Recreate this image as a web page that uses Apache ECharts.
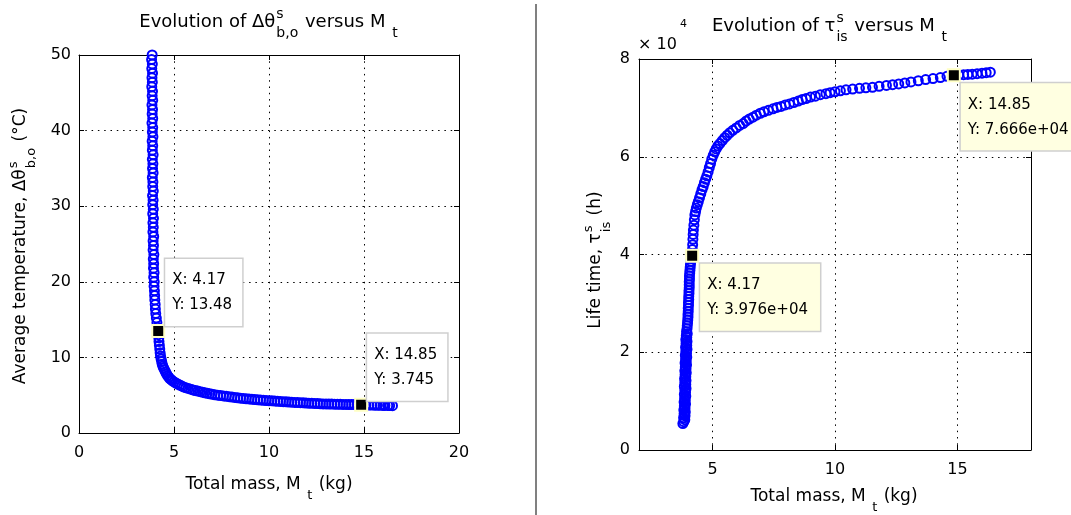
<!DOCTYPE html>
<html><head><meta charset="utf-8">
<script src="https://cdn.jsdelivr.net/npm/echarts@6/dist/echarts.min.js"></script>
<style>html,body{margin:0;padding:0;background:#fff}#c{width:1071px;height:515px}</style>
</head><body><div id="c"></div><script>
const FONT = 'DejaVu Sans';

// ---- Left chart: average temperature (°C) vs total mass (kg) ----
const leftMass = [
  3.85,3.82,3.86,3.83,3.87,3.84,3.86,3.83,3.87,3.85,
  3.88,3.84,3.87,3.85,3.88,3.84,3.88,3.86,3.89,3.85,
  3.88,3.86,3.90,3.86,3.89,3.87,3.90,3.86,3.89,3.88,
  3.91,3.87,3.90,3.88,3.91,3.88,3.92,3.89,3.91,3.89,
  3.93,3.90,3.92,3.90,3.94,3.91,3.93,3.92,3.95,3.93,
  3.96,3.95,3.97,3.98,3.99,4.01,4.02,4.04,4.07,4.10,4.13,
  4.17,4.18,4.20,4.21,4.23,4.25,4.27,4.29,4.32,4.35,
  4.38,4.41,4.45,4.50,4.55,4.60,4.66,4.72,4.78,4.85,
  4.92,5.00,5.10,5.20,5.30,5.40,5.50,5.62,5.75,5.88,
  6.00,6.12,6.25,6.38,6.50,6.62,6.75,6.88,7.00,7.15,
  7.30,7.45,7.60,7.75,7.90,8.05,8.20,8.35,8.50,8.65,
  8.80,8.95,9.10,9.25,9.40,9.55,9.70,9.85,10.00,10.15,
  10.30,10.45,10.60,10.75,10.90,11.05,11.20,11.35,11.50,11.65,
  11.80,11.95,12.10,12.25,12.40,12.55,12.70,12.85,13.00,13.15,
  13.30,13.45,13.60,13.75,13.90,14.05,14.20,14.35,14.50,14.65,
  14.85,14.95,15.10,15.25,15.40,15.55,15.70,15.85,16.00,16.10,
  16.25,16.35,16.50
];
const leftTemp = [
  50,49.4,48.8,48.2,47.6,47,46.4,45.8,45.2,44.6,
  44,43.4,42.8,42.2,41.6,41,40.4,39.8,39.2,38.6,
  38,37.4,36.8,36.2,35.6,35,34.4,33.8,33.2,32.6,
  32,31.4,30.8,30.2,29.6,29,28.4,27.8,27.2,26.6,
  26,25.4,24.8,24.2,23.6,23,22.4,21.8,21.2,20.6,
  20,19.4,18.8,18.2,17.6,17,16.4,15.8,15.2,14.6,14.0,
  13.48,13.0,12.6,12.1,11.6,11.1,10.6,10.2,9.8,9.45,
  9.1,8.85,8.6,8.35,8.1,7.85,7.6,7.4,7.2,7.05,
  6.9,6.75,6.6,6.47,6.35,6.22,6.1,6.0,5.9,5.8,
  5.7,5.62,5.55,5.47,5.4,5.32,5.25,5.19,5.13,5.06,
  5.0,4.95,4.9,4.85,4.8,4.75,4.7,4.65,4.61,4.57,
  4.53,4.5,4.46,4.42,4.39,4.36,4.33,4.3,4.28,4.25,
  4.22,4.19,4.17,4.14,4.12,4.09,4.07,4.05,4.03,4.01,
  3.99,3.97,3.95,3.93,3.91,3.89,3.87,3.85,3.84,3.83,
  3.82,3.81,3.8,3.79,3.78,3.775,3.77,3.765,3.76,3.755,
  3.745,3.735,3.72,3.705,3.69,3.68,3.67,3.66,3.65,3.645,
  3.64,3.63,3.62
];
const leftTipMass = [4.17, 14.85];
const leftTipTemp = [13.48, 3.745];
const leftXTicks = {min: 0, max: 20, interval: 5};
const leftYTicks = {min: 0, max: 50, interval: 10};

// ---- Right chart: life time (h) vs total mass (kg) ----
const rightMass = [
  3.79,3.83,3.87,3.82,3.88,3.84,3.89,3.83,3.88,3.85,
  3.90,3.84,3.89,3.86,3.91,3.85,3.90,3.87,3.92,3.85,
  3.91,3.87,3.92,3.86,3.91,3.88,3.93,3.87,3.92,3.89,
  3.94,3.88,3.93,3.90,3.95,3.89,3.94,3.91,3.96,3.90,
  3.95,3.92,3.96,3.91,3.95,3.93,3.97,3.94,
  3.96,3.97,3.98,3.99,4.00,4.00,4.01,4.01,4.02,4.02,
  4.03,4.03,4.04,4.04,4.05,4.05,4.05,4.06,4.06,4.07,
  4.08,4.09,4.10,4.12,4.14,
  4.17,4.18,4.19,4.20,4.21,4.22,4.24,4.26,4.28,4.31,
  4.34,4.38,4.42,4.47,4.52,4.57,4.62,4.67,4.72,4.77,
  4.82,4.87,4.92,4.97,5.03,5.09,5.15,5.22,5.30,5.40,
  5.50,5.60,5.70,5.83,5.97,6.11,6.25,6.37,6.50,6.65,
  6.79,6.95,7.10,7.28,7.47,7.63,7.80,7.97,8.14,8.32,
  8.50,8.66,8.82,9.00,9.20,9.40,9.63,9.80,10.00,10.22,
  10.45,10.72,11.00,11.26,11.53,11.80,12.10,12.35,12.60,12.85,
  13.10,13.40,13.70,14.00,14.30,14.57,14.85,15.05,15.25,15.42,
  15.60,15.80,16.00,16.17,16.34
];
const rightLife = [
  5400,5800,6200,6600,7000,7400,7800,8200,8600,9000,
  9400,9800,10200,10600,11000,11400,11800,12200,12600,13000,
  13400,13800,14200,14600,15000,15400,15800,16200,16600,17000,
  17400,17800,18200,18600,19000,19400,19800,20200,20600,21000,
  21400,21800,22200,22600,23000,23400,23800,24200,
  24800,25400,26000,26600,27200,27800,28400,29000,29600,30200,
  30800,31400,32000,32600,33200,33800,34400,35000,35600,36200,
  36800,37400,38000,38600,39200,
  39760,41000,42000,43100,44100,45000,46000,47100,48100,48800,
  49500,50200,50800,51600,52400,53200,53900,54700,55400,56100,
  56900,57800,58600,59500,60300,61000,61600,62200,62700,63300,
  63900,64400,64900,65400,65900,66400,66800,67300,67700,68100,
  68500,68900,69200,69500,69800,70100,70300,70600,70800,71100,
  71400,71700,71900,72200,72400,72700,72900,73100,73300,73500,
  73700,73850,74000,74100,74200,74400,74600,74750,74900,75100,
  75300,75550,75800,76000,76200,76450,76660,76730,76800,76850,
  76900,77000,77100,77200,77300
];
const rightTipMass = [4.17, 14.85];
const rightTipLife = [39760, 76660];
const rightXLabels = [5, 10, 15];
const rightXRange = {min: 2, max: 18};
const rightYTicks = {min: 0, max: 80000, interval: 20000};
const rightYScale = 10000; // tick labels shown in units of 10^4

// ---- helpers ----
const mctx = document.createElement('canvas').getContext('2d');
function tw(text, size) { mctx.font = size + 'px "' + FONT + '"'; return mctx.measureText(text).width; }
function txt(x, y, s, size) {
  return {type: 'text', x: x, y: y, silent: true,
    style: {text: s, fontSize: size, fontFamily: FONT, fill: '#000',
      textAlign: 'left', textVerticalAlign: 'middle', align: 'left', verticalAlign: 'middle'}};
}
function mathLabel(pieces, cx, cy, size, rot) {
  const ss = Math.round(size * 0.76);
  let x = 0; const kids = [];
  pieces.forEach(p => {
    if (p.t) { kids.push(txt(x, 0, p.t, size)); x += tw(p.t, size); }
    else {
      let adv = 0;
      if (p.sup) { kids.push(txt(x + 1, -size * 0.45, p.sup, ss)); adv = Math.max(adv, tw(p.sup, ss) + 1); }
      if (p.sub) { kids.push(txt(x + 1, size * 0.62, p.sub, ss)); adv = Math.max(adv, tw(p.sub, ss) + 1); }
      x += adv + 1;
    }
  });
  kids.forEach(k => { k.x -= x / 2; });
  return {type: 'group', x: cx, y: cy, rotation: rot || 0, children: kids};
}
const fmtLife = v => v.toExponential(3).replace(/e\+(\d)$/, 'e+0$1');

const dotted = {show: true, lineStyle: {type: [1.5, 4.8], color: '#000', width: 1}};
const blackLine = {show: true, onZero: false, lineStyle: {color: '#000', width: 1}};
const tickIn = {show: true, inside: true, length: 5, lineStyle: {color: '#000'}};
const lab = {color: '#000', fontSize: 16, fontFamily: FONT};

function scatterStyle() {
  return {symbol: 'circle', symbolSize: 9,
    itemStyle: {color: 'rgba(0,0,0,0)', borderColor: '#0000ff', borderWidth: 2, opacity: 1}};
}
const tipLabelBase = {show: true, color: '#000', fontSize: 15, fontFamily: FONT, lineHeight: 25,
  borderWidth: 1.5, padding: [9, 10, 8, 7], align: 'left', verticalAlign: 'top'};

const chart = echarts.init(document.getElementById('c'), null, {renderer: 'canvas'});
chart.setOption({
  animation: false,
  backgroundColor: '#fff',
  grid: [
    {left: 79, top: 55, width: 380, height: 378},
    {left: 639, top: 59, width: 392, height: 391}
  ],
  xAxis: [
    Object.assign({gridIndex: 0, type: 'value', position: 'bottom', axisLine: blackLine, axisTick: tickIn,
      axisLabel: Object.assign({margin: 12}, lab), splitLine: dotted}, leftXTicks),
    Object.assign({gridIndex: 0, type: 'value', position: 'top', axisLine: blackLine, axisTick: tickIn,
      axisLabel: {show: false}, splitLine: {show: false}}, leftXTicks),
    Object.assign({gridIndex: 1, type: 'value', position: 'bottom', axisLine: blackLine,
      axisTick: Object.assign({customValues: rightXLabels}, tickIn),
      axisLabel: Object.assign({margin: 12, customValues: rightXLabels}, lab), splitLine: dotted}, rightXRange),
    Object.assign({gridIndex: 1, type: 'value', position: 'top', axisLine: blackLine,
      axisTick: Object.assign({customValues: rightXLabels}, tickIn),
      axisLabel: {show: false, customValues: rightXLabels}, splitLine: {show: false}}, rightXRange)
  ],
  yAxis: [
    Object.assign({gridIndex: 0, type: 'value', position: 'left', axisLine: blackLine, axisTick: tickIn,
      axisLabel: Object.assign({margin: 8}, lab), splitLine: dotted}, leftYTicks),
    Object.assign({gridIndex: 0, type: 'value', position: 'right', axisLine: blackLine, axisTick: tickIn,
      axisLabel: {show: false}, splitLine: {show: false}}, leftYTicks),
    Object.assign({gridIndex: 1, type: 'value', position: 'left', axisLine: blackLine, axisTick: tickIn,
      axisLabel: Object.assign({margin: 9, formatter: v => String(v / rightYScale)}, lab), splitLine: dotted}, rightYTicks),
    Object.assign({gridIndex: 1, type: 'value', position: 'right', axisLine: blackLine, axisTick: tickIn,
      axisLabel: {show: false}, splitLine: {show: false}}, rightYTicks)
  ],
  series: [
    Object.assign({type: 'scatter', xAxisIndex: 0, yAxisIndex: 0, z: 3,
      data: leftMass.map((m, i) => [m, leftTemp[i]])}, scatterStyle()),
    Object.assign({type: 'scatter', xAxisIndex: 2, yAxisIndex: 2, z: 3,
      data: rightMass.map((m, i) => [m, rightLife[i]])}, scatterStyle()),
    {type: 'scatter', xAxisIndex: 0, yAxisIndex: 0, z: 5, symbol: 'rect', symbolSize: 12,
      itemStyle: {color: '#000', borderColor: '#ffffc4', borderWidth: 2, opacity: 1},
      label: Object.assign({}, tipLabelBase, {backgroundColor: '#ffffff', borderColor: '#cfcfcf',
        formatter: p => 'X: ' + p.value[0] + '\nY: ' + p.value[1]}),
      data: [
        {value: [leftTipMass[0], leftTipTemp[0]], label: {position: [14, -65]}},
        {value: [leftTipMass[1], leftTipTemp[1]], label: {position: [13, -64]}}
      ]},
    {type: 'scatter', xAxisIndex: 2, yAxisIndex: 2, z: 5, symbol: 'rect', symbolSize: 12,
      itemStyle: {color: '#000', borderColor: '#ffffc4', borderWidth: 2, opacity: 1},
      label: Object.assign({}, tipLabelBase, {backgroundColor: '#ffffe1', borderColor: '#cfcfcf',
        padding: [9, 12, 8, 7],
        formatter: p => 'X: ' + p.value[0] + '\nY: ' + fmtLife(p.value[1])}),
      data: [
        {value: [rightTipMass[0], rightTipLife[0]], label: {position: [15, 15]}},
        {value: [rightTipMass[1], rightTipLife[1]], label: {position: [14, 15]}}
      ]}
  ],
  graphic: [
    {type: 'line', silent: true, shape: {x1: 536, y1: 4, x2: 536, y2: 515},
      style: {stroke: '#808080', lineWidth: 2}},
    mathLabel([{t: 'Evolution of Δθ'}, {sup: 's', sub: 'b,o'}, {t: ' versus M '}, {sub: 't'}], 269, 22, 18),
    mathLabel([{t: 'Evolution of τ'}, {sup: 's', sub: 'is'}, {t: ' versus M '}, {sub: 't'}], 830, 26, 18),
    mathLabel([{t: 'Total mass, M '}, {sub: 't'}, {t: ' (kg)'}], 269, 485, 17),
    mathLabel([{t: 'Total mass, M '}, {sub: 't'}, {t: ' (kg)'}], 834, 497, 17),
    mathLabel([{t: 'Average temperature, Δθ'}, {sup: 's', sub: 'b,o'}, {t: ' (°C)'}], 21, 246, 17, Math.PI / 2),
    mathLabel([{t: 'Life time, τ'}, {sup: 's', sub: 'is'}, {t: ' (h)'}], 596, 260, 17, Math.PI / 2),
    txt(638, 45, '× 10', 16),
    txt(680, 24, '4', 11)
  ]
});
</script></body></html>
